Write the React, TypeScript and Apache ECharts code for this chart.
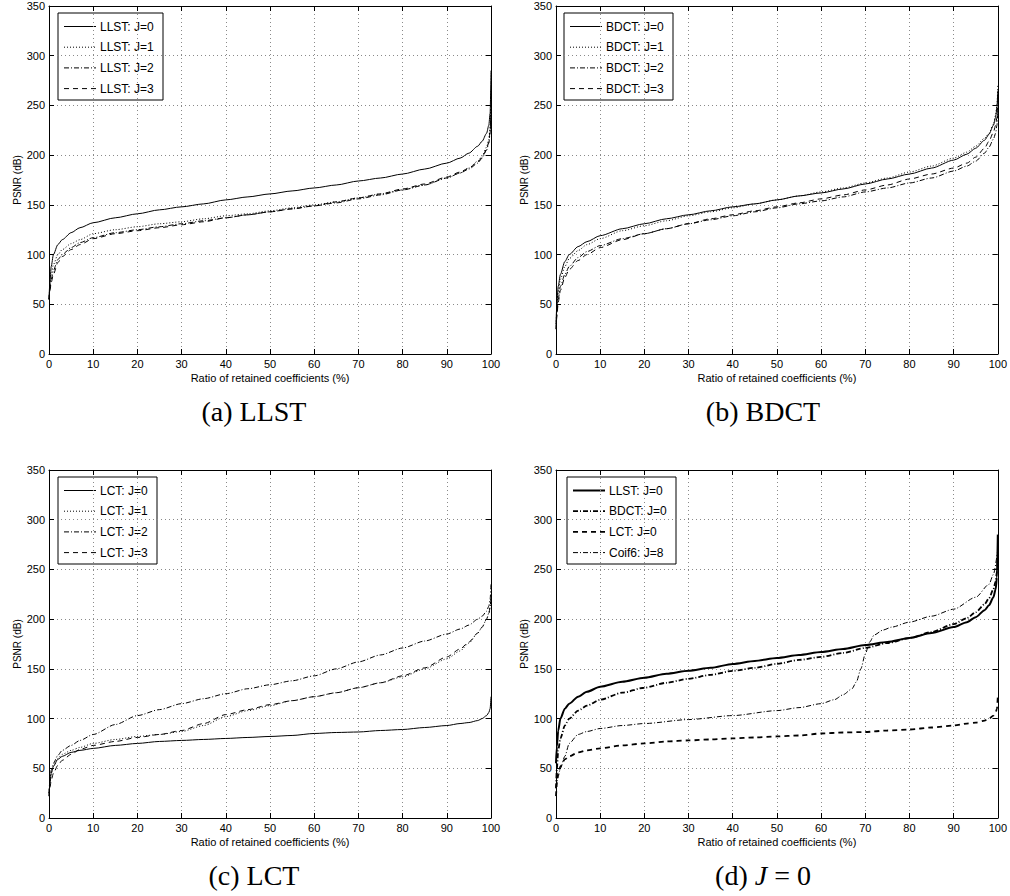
import { useEffect, useRef } from "react";
import * as echarts from "echarts";

// Ratio of retained coefficients (%) sampled densely near both ends
const RATIO = [0, 0.2, 0.5, 1, 2, 3, 5, 7, 10, 15, 20, 25, 30, 35, 40, 45, 50, 55, 60, 65, 70, 75, 80, 85, 90, 93, 95, 97, 98, 99, 99.5, 99.8, 100];

// PSNR (dB) — LLST
const LLST_J0 = [55, 72, 88, 100, 110, 115, 122, 127, 132, 137, 141, 145, 148, 151, 155, 158, 161, 164, 167, 170, 174, 177, 181, 186, 192, 197, 202, 209, 214, 222, 230, 242, 285];
const LLST_J1 = [55, 68, 80, 90, 100, 105, 111, 115, 121, 125, 128, 131, 133, 136, 139, 141, 144, 147, 150, 153, 157, 161, 165, 170, 177, 182, 187, 194, 199, 208, 216, 228, 265];
const LLST_J2 = [55, 65, 75, 84, 95, 100, 107, 112, 117, 122, 125, 128, 131, 134, 137, 140, 143, 146, 149, 152, 156, 160, 165, 170, 177, 182, 186, 192, 197, 205, 212, 222, 250];
const LLST_J3 = [55, 63, 72, 80, 92, 98, 105, 110, 116, 121, 124, 127, 130, 133, 137, 140, 143, 146, 149, 153, 157, 161, 166, 171, 178, 183, 187, 193, 198, 206, 213, 224, 245];

// PSNR (dB) — BDCT
const BDCT_J0 = [30, 50, 68, 80, 93, 100, 108, 113, 119, 126, 131, 136, 140, 144, 148, 151, 155, 159, 162, 166, 171, 176, 181, 187, 195, 201, 207, 215, 221, 230, 238, 248, 265];
const BDCT_J1 = [30, 45, 62, 75, 88, 96, 104, 110, 116, 124, 129, 134, 139, 143, 147, 151, 155, 159, 163, 167, 172, 177, 183, 189, 197, 203, 209, 217, 222, 231, 240, 250, 270];
const BDCT_J2 = [25, 40, 55, 68, 80, 88, 97, 103, 109, 116, 121, 126, 131, 135, 139, 143, 147, 151, 154, 158, 163, 167, 172, 177, 184, 189, 194, 202, 208, 216, 222, 230, 245];
const BDCT_J3 = [25, 38, 52, 64, 77, 85, 94, 100, 107, 115, 121, 126, 131, 136, 140, 144, 148, 152, 156, 160, 165, 170, 176, 181, 187, 192, 198, 207, 214, 223, 230, 238, 255];

// PSNR (dB) — LCT
const LCT_J0 = [22, 35, 45, 52, 59, 62, 66, 68, 70, 73, 75, 77, 78, 79, 80, 81, 82, 83, 85, 86, 86.5, 88, 89, 91, 93, 95, 96, 98, 100, 103, 106, 110, 122];
const LCT_J1 = [25, 35, 45, 52, 60, 64, 68, 71, 75, 79, 82, 84, 87, 93, 102, 108, 113, 118, 122, 126, 131, 136, 142, 150, 160, 168, 176, 186, 192, 200, 206, 212, 225];
const LCT_J2 = [25, 38, 48, 55, 63, 68, 73, 78, 84, 94, 103, 109, 115, 120, 125, 130, 134, 138, 143, 150, 157, 164, 171, 178, 185, 190, 194, 200, 203, 208, 213, 220, 235];
const LCT_J3 = [22, 30, 38, 45, 53, 58, 64, 69, 73, 77, 81, 84, 88, 95, 104, 109, 114, 118, 122, 126, 131, 136, 143, 151, 162, 170, 177, 186, 192, 200, 205, 212, 222];

// PSNR (dB) — Coif6 wavelet, J=8 (own sampling around the jump near 70 %)
const COIF6_RATIO = [0, 0.5, 1, 2, 3, 5, 7, 10, 15, 20, 30, 40, 50, 55, 60, 63, 65, 67, 68, 69, 70, 71, 72, 74, 76, 80, 85, 90, 95, 98, 99, 100];
const COIF6_J8 = [30, 42, 50, 62, 75, 84, 87, 90, 93, 95, 99, 103, 108, 111, 115, 119, 124, 130, 137, 150, 165, 177, 184, 189, 192, 197, 203, 210, 222, 235, 245, 270];

const W = 1010;
const H = 896;
const AXIS_FONT = "'Liberation Sans', Arial, Helvetica, sans-serif";
const CAPTION_FONT = "'Liberation Serif', 'Times New Roman', serif";

const DASH: Record<string, any> = {
  solid: "solid",
  dotted: [1, 2],
  dashdot: [5, 2, 1, 2],
  dashed: [5, 4],
};

type Entry = { name: string; xs: number[]; ys: number[]; dash: string; width: number };
type Panel = {
  caption: string;
  grid: { left: number; top: number; width: number; height: number };
  legend: { dx: number; w: number };
  captionX: number;
  captionY: number;
  entries: Entry[];
};

const PANELS: Panel[] = [
  {
    caption: "(a) LLST",
    grid: { left: 49, top: 6, width: 442, height: 348 },
    legend: { dx: 9, w: 105 },
    captionX: 254,
    captionY: 411,
    entries: [
      { name: "LLST: J=0", xs: RATIO, ys: LLST_J0, dash: "solid", width: 1 },
      { name: "LLST: J=1", xs: RATIO, ys: LLST_J1, dash: "dotted", width: 1 },
      { name: "LLST: J=2", xs: RATIO, ys: LLST_J2, dash: "dashdot", width: 1 },
      { name: "LLST: J=3", xs: RATIO, ys: LLST_J3, dash: "dashed", width: 1 },
    ],
  },
  {
    caption: "(b) BDCT",
    grid: { left: 556, top: 6, width: 443, height: 348 },
    legend: { dx: 8, w: 109 },
    captionX: 763,
    captionY: 411,
    entries: [
      { name: "BDCT: J=0", xs: RATIO, ys: BDCT_J0, dash: "solid", width: 1 },
      { name: "BDCT: J=1", xs: RATIO, ys: BDCT_J1, dash: "dotted", width: 1 },
      { name: "BDCT: J=2", xs: RATIO, ys: BDCT_J2, dash: "dashdot", width: 1 },
      { name: "BDCT: J=3", xs: RATIO, ys: BDCT_J3, dash: "dashed", width: 1 },
    ],
  },
  {
    caption: "(c) LCT",
    grid: { left: 49, top: 470, width: 442, height: 348 },
    legend: { dx: 9, w: 99 },
    captionX: 254,
    captionY: 875,
    entries: [
      { name: "LCT: J=0", xs: RATIO, ys: LCT_J0, dash: "solid", width: 1 },
      { name: "LCT: J=1", xs: RATIO, ys: LCT_J1, dash: "dotted", width: 1 },
      { name: "LCT: J=2", xs: RATIO, ys: LCT_J2, dash: "dashdot", width: 1 },
      { name: "LCT: J=3", xs: RATIO, ys: LCT_J3, dash: "dashed", width: 1 },
    ],
  },
  {
    caption: "(d) {i|J} = 0",
    grid: { left: 556, top: 470, width: 443, height: 348 },
    legend: { dx: 11, w: 109 },
    captionX: 763,
    captionY: 875,
    entries: [
      { name: "LLST: J=0", xs: RATIO, ys: LLST_J0, dash: "solid", width: 2 },
      { name: "BDCT: J=0", xs: RATIO, ys: BDCT_J0, dash: "dashdot", width: 1.8 },
      { name: "LCT: J=0", xs: RATIO, ys: LCT_J0, dash: "dashed", width: 1.8 },
      { name: "Coif6: J=8", xs: COIF6_RATIO, ys: COIF6_J8, dash: "dashdot", width: 1 },
    ],
  },
];

const pairs = (xs: number[], ys: number[]) => xs.map((x, i) => [x, ys[i]]);

function buildOption() {
  const grid: any[] = [];
  const xAxis: any[] = [];
  const yAxis: any[] = [];
  const series: any[] = [];
  const graphic: any[] = [];

  const tick = { show: true, inside: true, length: 5, lineStyle: { color: "#000", width: 1 } };
  const line = { show: true, onZero: false, lineStyle: { color: "#000", width: 1 } };
  const split = { show: true, lineStyle: { color: "#8a8a8a", width: 1, type: [1, 3] } };
  const label = { color: "#000", fontSize: 11, fontFamily: AXIS_FONT };

  PANELS.forEach((p, i) => {
    grid.push({ ...p.grid, containLabel: false, show: false });

    xAxis.push({
      gridIndex: i, type: "value", position: "bottom", min: 0, max: 100, interval: 10,
      axisLine: line, axisTick: tick, splitLine: split,
      axisLabel: { ...label, margin: 4 },
      name: "Ratio of retained coefficients (%)", nameLocation: "middle", nameGap: 18,
      nameTextStyle: { ...label },
    });
    xAxis.push({
      gridIndex: i, type: "value", position: "top", min: 0, max: 100, interval: 10,
      axisLine: line, axisTick: tick, splitLine: { show: false }, axisLabel: { show: false },
    });
    yAxis.push({
      gridIndex: i, type: "value", position: "left", min: 0, max: 350, interval: 50,
      axisLine: line, axisTick: tick, splitLine: split,
      axisLabel: { ...label, margin: 4 },
      name: "PSNR (dB)", nameLocation: "middle", nameGap: 21,
      nameTextStyle: { ...label, fontSize: 10 },
    });
    yAxis.push({
      gridIndex: i, type: "value", position: "right", min: 0, max: 350, interval: 50,
      axisLine: line, axisTick: tick, splitLine: { show: false }, axisLabel: { show: false },
    });

    p.entries.forEach((e) => {
      series.push({
        type: "line",
        name: e.name,
        xAxisIndex: 2 * i,
        yAxisIndex: 2 * i,
        data: pairs(e.xs, e.ys),
        showSymbol: false,
        symbol: "none",
        smooth: 0.25,
        smoothMonotone: "x",
        lineStyle: { color: "#000", width: e.width, type: DASH[e.dash] },
        z: 3,
      });
    });

    // legend box
    const bx = p.grid.left + p.legend.dx;
    const by = p.grid.top + 7;
    const children: any[] = [
      { type: "rect", shape: { x: 0, y: 0, width: p.legend.w, height: 87 }, style: { fill: "#fff", stroke: "#000", lineWidth: 1 } },
    ];
    p.entries.forEach((e, k) => {
      const ry = 13.5 + k * 20.7;
      children.push({
        type: "line",
        shape: { x1: 6, y1: ry, x2: 38, y2: ry },
        style: { stroke: "#000", lineWidth: e.width, lineDash: e.dash === "solid" ? null : DASH[e.dash] },
      });
      children.push({
        type: "text",
        x: 42,
        y: ry,
        style: { text: e.name, fill: "#000", font: `12px ${AXIS_FONT}`, textVerticalAlign: "middle", textAlign: "left" },
      });
    });
    graphic.push({ type: "group", x: bx, y: by, z: 50, children });

    // caption below the panel
    graphic.push({
      type: "text",
      x: p.captionX,
      y: p.captionY,
      z: 50,
      style: {
        text: p.caption,
        fill: "#000",
        font: `28px ${CAPTION_FONT}`,
        textAlign: "center",
        textVerticalAlign: "middle",
        rich: { i: { fontStyle: "italic", fontSize: 28, fontFamily: CAPTION_FONT } },
      },
    });
  });

  return {
    animation: false,
    backgroundColor: "#fff",
    grid,
    xAxis,
    yAxis,
    series,
    graphic,
  };
}

export default function App() {
  const ref = useRef<HTMLDivElement>(null);

  useEffect(() => {
    document.body.style.margin = "0";
    if (!ref.current) return;
    const chart = echarts.init(ref.current, null, { renderer: "svg", width: W, height: H });
    chart.setOption(buildOption());
    return () => chart.dispose();
  }, []);

  return <div ref={ref} style={{ width: W, height: H }} />;
}
